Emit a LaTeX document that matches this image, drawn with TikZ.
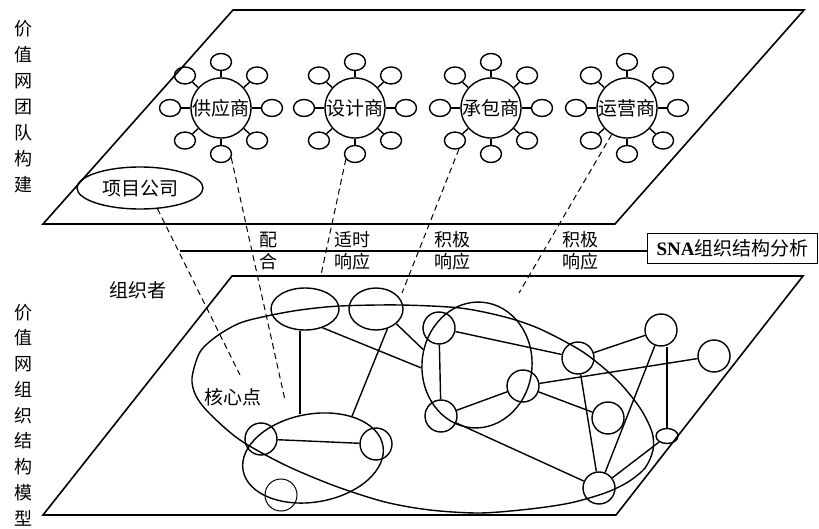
\documentclass[tikz,border=0pt]{standalone}
\usepackage{fontspec}
\setmainfont{Noto Sans CJK SC}
\newfontfamily\lat{Liberation Serif}
\usetikzlibrary{shapes.geometric,calc}
\begin{document}
\begin{tikzpicture}[x=1pt,y=-1pt,
  plane/.style={line width=1.6pt, line join=miter},
  gl/.style={line width=1.4pt},
  hub/.style={circle, draw, line width=1.4pt, minimum size=60pt, inner sep=0pt, font=\fontsize{19}{19}\selectfont},
  sat/.style={ellipse, draw, line width=1.4pt, minimum width=21pt, minimum height=17pt, inner sep=0pt},
  nd/.style={circle, draw, line width=1.4pt, minimum size=32pt, inner sep=0pt},
  ov/.style={ellipse, draw, line width=1.4pt, inner sep=0pt},
  lbl/.style={font=\fontsize{18}{18}\selectfont, inner sep=0pt},
  dsh/.style={dash pattern=on 6pt off 4pt, line width=1pt}]
\useasboundingbox (0,0) rectangle (819,529);

% planes
\draw[plane] (233,10) -- (804,10) -- (615,224) -- (43,224) -- cycle;
\draw[plane] (232,276) -- (803,276) -- (616,515) -- (43,515) -- cycle;

% left column labels
\node[lbl, align=center, font=\fontsize{18}{26}\selectfont] (tTop) at (23,107) {价\\值\\网\\团\\队\\构\\建};
\node[lbl, align=center, font=\fontsize{18}{25.75}\selectfont] (tBot) at (23,415) {价\\值\\网\\组\\织\\结\\构\\模\\型};

% hubs with satellites
\foreach \nm/\hx/\lab in {h1/221/供应商, h2/355/设计商, h3/491/承包商, h4/627/运营商} {
  \node[hub] (\nm) at (\hx,108) {\lab};
  \foreach \a [count=\i] in {0,45,...,315} {
    \node[sat] (\nm-\i) at ({\hx+51*cos(\a)},{108+46*sin(\a)}) {};
    \draw[gl] (\nm) -- (\nm-\i);
  }
}

% project company
\node[ov, minimum width=126pt, minimum height=42pt, font=\fontsize{19}{19}\selectfont] (proj) at (140,188) {项目公司};

% horizontal line + SNA box
\node[draw, line width=1.7pt, minimum width=170pt, minimum height=30pt, inner sep=0pt, font=\fontsize{19}{19}\selectfont] (sna) at (732.5,248.5) {{\lat\bfseries SNA}组织结构分析};
\coordinate (hl) at (180,251);
\draw[line width=1.5pt] (hl) -- (hl -| sna.west);

% labels on the line
\node[lbl] (l1a) at (268,240) {配};
\node[lbl] (l1b) at (268,262) {合};
\node[lbl] (l2a) at (352,240) {适时};
\node[lbl] (l2b) at (352,262) {响应};
\node[lbl] (l3a) at (452,240) {积极};
\node[lbl] (l3b) at (452,262) {响应};
\node[lbl] (l4a) at (580,240) {积极};
\node[lbl] (l4b) at (580,262) {响应};

\node[lbl, font=\fontsize{19}{19}\selectfont] (org) at (138,290) {组织者};
\node[lbl, font=\fontsize{19}{19}\selectfont] (core) at (233,397) {核心点};

% big ellipse of the bottom plane
\draw[gl] plot[smooth cycle] coordinates {(192,378) (200,352) (217,336) (240,323) (267,316) (300,310) (340,306) (400,305) (460,308) (505,317) (540,329) (583,352) (617,380) (640,408) (652,432) (653,450) (645,468) (628,482) (605,493) (570,503) (530,509) (480,513) (430,510) (385,502) (335,486) (285,465) (240,440) (210,414) (196,396)};

% bottom network nodes
\node[ov, minimum width=68pt, minimum height=42pt] (A) at (305,309) {};
\node[ov, minimum width=54pt, minimum height=42pt] (B) at (376,309) {};
\node[ov, minimum width=142pt, minimum height=88pt, rotate=10] (C) at (313,458) {};
\node[nd] (D) at (261,439) {};
\node[nd] (E) at (376,444) {};
\node[nd, line width=1pt] (F) at (281,495) {};
\node[ov, minimum width=110pt, minimum height=126pt, rotate=-5] (G) at (477,365) {};
\node[nd] (H) at (439,328) {};
\node[nd] (I) at (441,416) {};
\node[nd] (J) at (523,386) {};
\node[nd] (K) at (578,358) {};
\node[nd] (L) at (661,330) {};
\node[nd] (M) at (714,356) {};
\node[nd] (N) at (608,418) {};
\node[nd] (O) at (599,488) {};
\node[ov, minimum width=22pt, minimum height=15pt] (P) at (667,436) {};

% connections
\draw[gl] (A.south -| 300,0) -- (C.north -| 300,0);
\draw[gl] (B.-60) -- (C.37);
\draw[gl] (D) -- (E);
\draw[gl] (A.-47) -- (G.188);
\draw[gl] (B.-36) -- (G.169);
\draw[gl] (H) -- (I);
\draw[gl] (H) -- (K);
\draw[gl] (I) -- (J);
\draw[gl] (J) -- (M);
\draw[gl] (J) -- (N);
\draw[gl] (K) -- (L);
\draw[gl] (K) -- (O);
\draw[gl] (L) -- (O);
\draw[gl] (P.north) -- (P.north |- L.south);
\draw[gl] (O) -- (P);
\draw[gl] (I) -- (O);

% dashed links between planes
\coordinate (d1) at (240,375);
\coordinate (d2) at (285,400);
\coordinate (d3) at (321,275);
\coordinate (d4) at (402,293);
\coordinate (d5) at (519,293);
\draw[dsh] (proj.-50) -- (d1);
\draw[dsh] (h1-3.-20) -- (d2);
\draw[dsh] (h2-3.210) -- (d3);
\draw[dsh] (h3-4.-65) -- (d4);
\draw[dsh] (h4.-120) -- (d5);
\end{tikzpicture}
\end{document}
